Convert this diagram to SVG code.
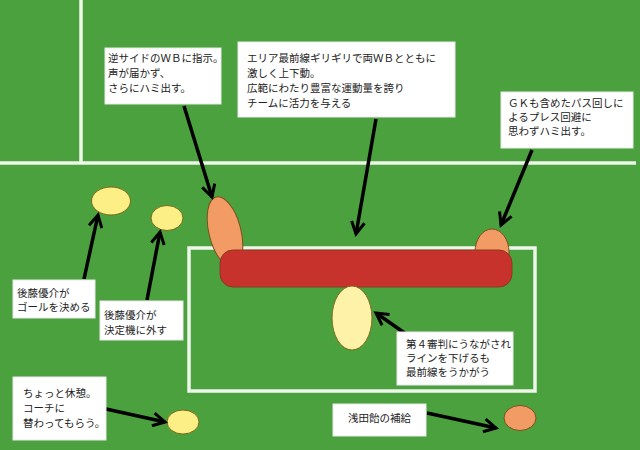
<svg xmlns="http://www.w3.org/2000/svg" width="640" height="450" viewBox="0 0 640 450">
<defs>
<marker id="ah" markerUnits="userSpaceOnUse" markerWidth="16" markerHeight="16" refX="13" refY="8" orient="auto">
<path d="M1,1.5 L13,8 L1,14.5" fill="none" stroke="#000" stroke-width="3"/>
</marker>
<style>
.ln{fill:none;stroke:#eef6ea;stroke-width:3.5}
.box{fill:#fff;stroke:#e8e8e8;stroke-width:1}
.t{font-family:"Noto Sans CJK JP","Noto Sans CJK SC",sans-serif;font-size:10.5px;fill:#222}
.ar{fill:none;stroke:#000;stroke-width:3.5;marker-end:url(#ah)}
.yl{fill:#fcef85;stroke:#7a6a1a;stroke-width:1}
.pl{fill:#fdf2a8;stroke:#7a6a1a;stroke-width:1}
.or{fill:#f29b64;stroke:#7a5020;stroke-width:1}
</style>
</defs>
<rect width="640" height="450" fill="#4ca13f"/>
<g id="field">
<line class="ln" x1="81" y1="0" x2="81" y2="163"/>
<line class="ln" x1="0" y1="163" x2="636" y2="163"/>
<rect class="ln" x="189" y="248" width="346" height="143"/>
</g>
<g id="wb-left"><ellipse class="or" cx="225" cy="232" rx="16" ry="36" transform="rotate(-14 225 232)"/></g>
<g id="wb-right"><ellipse class="or" cx="492" cy="252" rx="17" ry="23"/></g>
<g id="line-bar"><rect x="220" y="250" width="292" height="37" rx="13" fill="#c8322c" stroke="#8a3a20" stroke-width="1"/></g>
<g id="center-player"><ellipse class="pl" cx="352" cy="318" rx="20" ry="32"/></g>
<g id="p1"><ellipse class="yl" cx="111" cy="201" rx="19.5" ry="14"/></g>
<g id="p2"><ellipse class="yl" cx="167" cy="218" rx="16" ry="12.5"/></g>
<g id="p3"><ellipse class="yl" cx="183" cy="422" rx="16" ry="12"/></g>
<g id="p4"><ellipse class="or" cx="520" cy="418" rx="16" ry="12.5"/></g>
<g id="connectors">
<line class="ar" x1="184" y1="106" x2="212" y2="197"/>
<line class="ar" x1="376" y1="119" x2="356" y2="234"/>
<line class="ar" x1="532" y1="150" x2="501" y2="225"/>
<line class="ar" x1="84" y1="279" x2="98" y2="215"/>
<line class="ar" x1="147" y1="300" x2="160" y2="232"/>
<line class="ar" x1="406" y1="334" x2="376" y2="313"/>
<line class="ar" x1="427" y1="413" x2="496" y2="428"/>
<line class="ar" x1="97" y1="407" x2="165" y2="422"/>
</g>
<g id="note1">
<rect class="box" x="105" y="48" width="116" height="56"/>
<text class="t" x="108" y="62">逆サイドのＷＢに指示。</text>
<text class="t" x="108" y="77">声が届かず、</text>
<text class="t" x="108" y="92">さらにハミ出す。</text>
</g>
<g id="note2">
<rect class="box" x="238" y="42" width="217" height="75"/>
<text class="t" x="247" y="62">エリア最前線ギリギリで両ＷＢとともに</text>
<text class="t" x="247" y="77">激しく上下動。</text>
<text class="t" x="247" y="92">広範にわたり豊富な運動量を誇り</text>
<text class="t" x="247" y="107">チームに活力を与える</text>
</g>
<g id="note3">
<rect class="box" x="501" y="92" width="132" height="56"/>
<text class="t" x="508" y="107">ＧＫも含めたパス回しに</text>
<text class="t" x="508" y="121">よるプレス回避に</text>
<text class="t" x="508" y="135">思わずハミ出す。</text>
</g>
<g id="note4">
<rect class="box" x="13" y="280" width="82" height="38"/>
<text class="t" x="17" y="297">後藤優介が</text>
<text class="t" x="17" y="311">ゴールを決める</text>
</g>
<g id="note5">
<rect class="box" x="100" y="301" width="83" height="39"/>
<text class="t" x="104" y="319">後藤優介が</text>
<text class="t" x="104" y="334">決定機に外す</text>
</g>
<g id="note6">
<rect class="box" x="397" y="332" width="116" height="53"/>
<text class="t" x="406" y="348">第４審判にうながされ</text>
<text class="t" x="406" y="362">ラインを下げるも</text>
<text class="t" x="406" y="376">最前線をうかがう</text>
</g>
<g id="note7">
<rect class="box" x="333" y="404" width="93" height="32"/>
<text class="t" x="348" y="422">浅田飴の補給</text>
</g>
<g id="note8">
<rect class="box" x="13" y="377" width="93" height="63"/>
<text class="t" x="23" y="397">ちょっと休憩。</text>
<text class="t" x="23" y="412">コーチに</text>
<text class="t" x="23" y="427">替わってもらう。</text>
</g>
</svg>
